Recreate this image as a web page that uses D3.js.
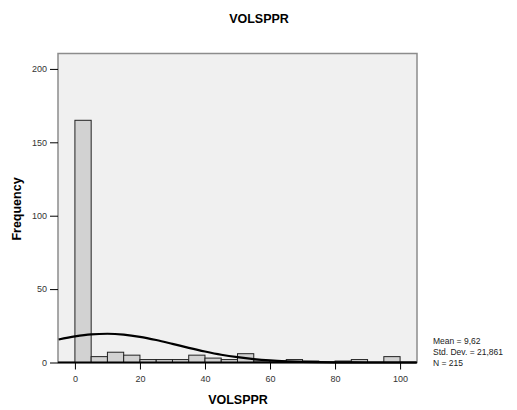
<!DOCTYPE html>
<html><head><meta charset="utf-8">
<script src="https://cdn.jsdelivr.net/npm/d3@7"></script>
<style>body{margin:0;background:#fff}svg{display:block;font-family:"Liberation Sans",Arial,sans-serif}</style>
</head><body>
<svg id="c" width="517" height="410"></svg>
<script>
const binStarts = [0,5,10,15,20,25,30,35,40,45,50,55,60,65,70,75,80,85,90,95];
const binWidth = 5;
const counts = [165,4,7,5,2,2,2,5,3,2,6,1,1,2,1,0,1,2,0,4];
const curveX = [-5,0,5,10,15,20,25,30,35,40,45,50,55,60,65,70,75,80,85,90,95,100,105];
const curveY = [15.7,17.8,19.2,19.6,19.0,17.5,15.3,12.7,10.0,7.5,5.3,3.6,2.3,1.4,0.8,0.4,0.2,0.1,0.05,0,0,0,0];
const xTicks = [0,20,40,60,80,100];
const yTicks = [0,50,100,150,200];
const statsText = ["Mean = 9,62","Std. Dev. = 21,861","N = 215"];
const title = "VOLSPPR", xTitle = "VOLSPPR", yTitle = "Frequency";

const svg = d3.select("#c");
const L = 58, R = 417, T = 53.5, B = 362.5;
const x = d3.scaleLinear().domain([-5.2, 105.2]).range([L, R]);
const y = d3.scaleLinear().domain([0, 210.5]).range([B, T]);

svg.append("rect").attr("x", L).attr("y", T).attr("width", R - L).attr("height", B - T)
  .attr("fill", "#f0f0f0").attr("stroke", "#8c8c8c").attr("stroke-width", 1.5);

svg.selectAll("rect.bar").data(binStarts).join("rect").attr("class","bar")
  .attr("x", d => x(d)).attr("width", d => x(d + binWidth) - x(d))
  .attr("y", (d,i) => y(counts[i])).attr("height", (d,i) => y(0) - y(counts[i]))
  .attr("fill", "#d2d2d2").attr("stroke", "#222").attr("stroke-width", 1);

const line = d3.line().x((d,i) => x(curveX[i])).y(d => y(d)).curve(d3.curveMonotoneX);
svg.append("path").attr("d", line(curveY)).attr("fill","none").attr("stroke","#000").attr("stroke-width",2.2);

const xa = svg.append("g").attr("transform", `translate(0,${B})`)
  .call(d3.axisBottom(x).tickValues(xTicks).tickSize(7).tickSizeOuter(0));
xa.select(".domain").attr("stroke","#000").attr("stroke-width",2).attr("d", `M${L},0H${R}`);
xa.selectAll(".tick line").attr("stroke","#000");
xa.selectAll(".tick text").attr("font-size", 9).attr("fill","#333").attr("font-family","Liberation Sans, Arial").attr("dy","1.1em");

const ya = svg.append("g").attr("transform", `translate(${L},0)`)
  .call(d3.axisLeft(y).tickValues(yTicks).tickSize(8).tickSizeOuter(0));
ya.select(".domain").remove();
ya.selectAll(".tick line").attr("stroke","#000");
ya.selectAll(".tick text").attr("font-size", 9).attr("fill","#333").attr("font-family","Liberation Sans, Arial").attr("x", -11);

svg.append("text").attr("x", 259).attr("y", 23).attr("text-anchor","middle")
  .attr("font-size", 12.5).attr("font-weight","bold").text(title);
svg.append("text").attr("x", 238).attr("y", 404).attr("text-anchor","middle")
  .attr("font-size", 12.5).attr("font-weight","bold").text(xTitle);
svg.append("text").attr("transform","translate(21,209) rotate(-90)").attr("text-anchor","middle")
  .attr("font-size", 12.5).attr("font-weight","bold").text(yTitle);

svg.selectAll("text.stat").data(statsText).join("text").attr("class","stat")
  .attr("x", 433).attr("y", (d,i) => 344 + i * 11).attr("font-size", 8.5).attr("fill","#222").text(d => d);
</script>
</body></html>
